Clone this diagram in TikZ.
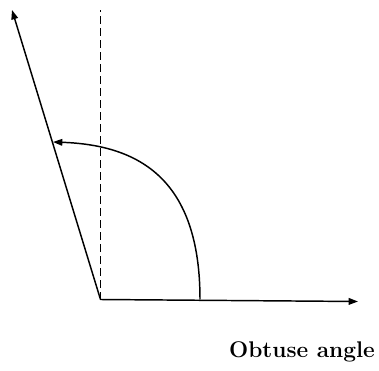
\documentclass[tikz,border=0pt]{standalone}
\usetikzlibrary{arrows.meta}
\tikzset{
  ray/.style={line width=1.1pt, -{Triangle[length=7pt,width=5pt]}},
  guide/.style={line width=1.1pt, dash pattern={on 5.5pt off 3.5pt}},
}
\begin{document}
\begin{tikzpicture}[x=0.75pt,y=0.75pt,yscale=-1,xscale=1]
\useasboundingbox (0,0) rectangle (379,371);

% Points
\coordinate (vertex) at (100.5,299.5);
\coordinate (xend) at (358,301.5);
\coordinate (slantend) at (12,10);
\coordinate (dashtop) at (100.5,10);
\coordinate (arcstart) at (200,299.5);
\coordinate (arcend) at (53,142);

%Straight Lines (dashed vertical)
\draw [guide] (vertex) -- (dashtop);
%Straight Lines (horizontal arm)
\draw [ray] (vertex) -- (xend);
%Straight Lines (slanted arm)
\draw [ray] (vertex) -- (slantend);
%Curve (angle arc)
\draw [ray] (arcstart) .. controls (200,180) and (140,145) .. (arcend);

% Text Node
\node (caption) at (302,352) {\fontsize{17}{20}\selectfont\bfseries Obtuse angle};

\end{tikzpicture}
\end{document}
